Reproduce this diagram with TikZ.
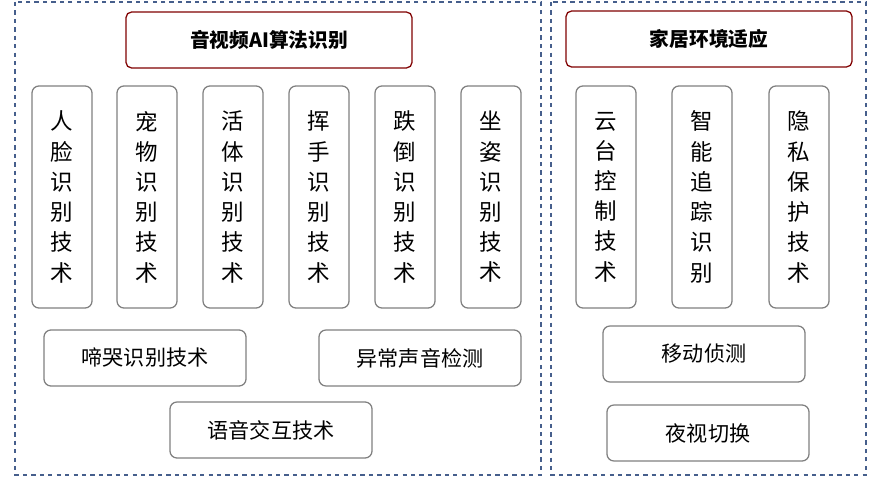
\documentclass[tikz,border=0pt]{standalone}
\usepackage{fontspec}
\setmainfont{Noto Sans CJK SC}
\definecolor{panelblue}{RGB}{70,95,140}
\tikzset{
  panel/.style={draw=panelblue, dashed, line width=0.8pt},
  title/.style={draw=red!50!black, rounded corners=4pt, line width=0.9pt, minimum width=7.15cm, minimum height=1.4cm, font=\fontsize{14}{16}\selectfont\bfseries},
  tall/.style={draw=gray, rounded corners=5pt, line width=0.9pt, minimum width=1.5cm, minimum height=5.55cm, align=center, font=\fontsize{16}{21.5}\selectfont},
  wide/.style={draw=gray, rounded corners=5pt, line width=0.9pt, minimum width=5.05cm, minimum height=1.4cm, font=\fontsize{15}{18}\selectfont}
}
\begin{document}
\begin{tikzpicture}[x=0.025cm, y=-0.025cm]
\useasboundingbox (0,0) rectangle (880,484);
\draw[panel] (15,2) rectangle (541,475);
\draw[panel] (551,2) rectangle (866,475);

\node[title] (algo) at (269,40) {音视频AI算法识别};
\node[title] (home) at (709,39) {家居环境适应};

% algorithm column
\node[tall] (face)  at (62,197)  {人\\脸\\识\\别\\技\\术};
\node[tall] (pet)   at (147,197) {宠\\物\\识\\别\\技\\术};
\node[tall] (live)  at (233,197) {活\\体\\识\\别\\技\\术};
\node[tall] (wave)  at (319,197) {挥\\手\\识\\别\\技\\术};
\node[tall] (fall)  at (405,197) {跌\\倒\\识\\别\\技\\术};
\node[tall] (sit)   at (491,197) {坐\\姿\\识\\别\\技\\术};

\node[wide] (cry)   at (145,358) {啼哭识别技术};
\node[wide] (sound) at (420,358) {异常声音检测};
\node[wide] (voice) at (271,430) {语音交互技术};

% home column
\node[tall] (ptz)   at (606,197) {云\\台\\控\\制\\技\\术};
\node[tall] (track) at (702,197) {智\\能\\追\\踪\\识\\别};
\node[tall] (priv)  at (799,197) {隐\\私\\保\\护\\技\\术};

\node[wide] (move)  at (704,354) {移动侦测};
\node[wide] (night) at (708,433) {夜视切换};
\end{tikzpicture}
\end{document}
